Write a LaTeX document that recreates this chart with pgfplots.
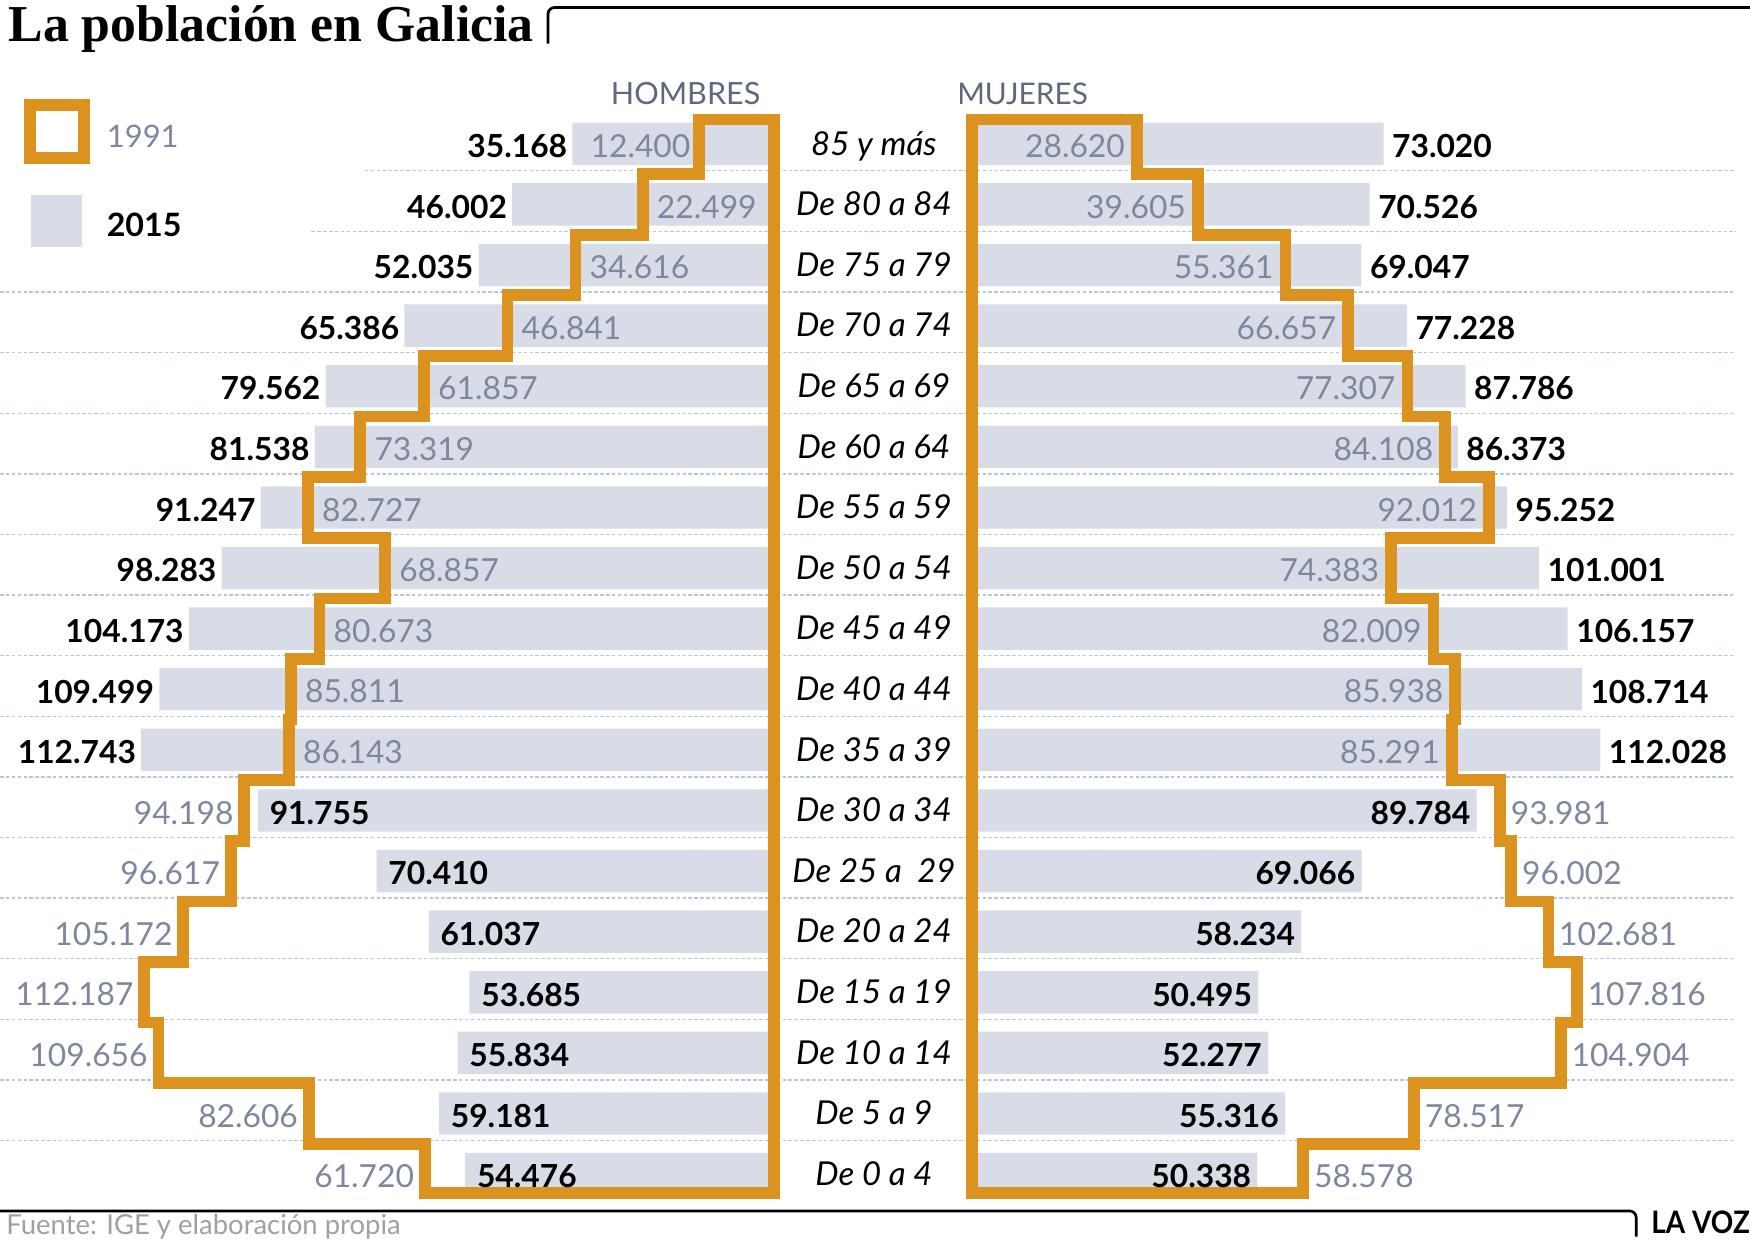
\documentclass[border=0pt]{standalone}
\usepackage{pgfplots}
\pgfplotsset{compat=1.18}
\usepackage{pgfplotstable}
\usepackage{fontspec}
\setmainfont{Lato}
\newfontfamily\titulo{Liberation Serif}

\definecolor{naranja}{HTML}{DC921E}
\definecolor{barra}{HTML}{D8DCE6}
\definecolor{grisnum}{HTML}{7D879D}
\definecolor{pizarra}{HTML}{5E687E}
\definecolor{rejilla}{HTML}{B2CAD9}
\definecolor{fuente}{HTML}{A0A0A0}

% fila 0 = De 0 a 4 ... fila 17 = 85 y mas
\pgfplotstableread{
y  h2015  h1991  m2015  m1991
0   54476  61720  50338  58578
1   59181  82606  55316  78517
2   55834 109656  52277 104904
3   53685 112187  50495 107816
4   61037 105172  58234 102681
5   70410  96617  69066  96002
6   91755  94198  89784  93981
7  112743  86143 112028  85291
8  109499  85811 108714  85938
9  104173  80673 106157  82009
10  98283  68857 101001  74383
11  91247  82727  95252  92012
12  81538  73319  86373  84108
13  79562  61857  87786  77307
14  65386  46841  77228  66657
15  52035  34616  69047  55361
16  46002  22499  70526  39605
17  35168  12400  73020  28620
}\datos

\newcommand{\tam}{\fontsize{8.1}{9}\selectfont}

\pgfplotsset{
  piramide/.style={
    scale only axis, width=7.1214cm, height=9.774cm,
    xmin=-3000, xmax=140000, ymin=-0.5, ymax=17.5,
    hide axis, clip=false,
    /pgf/number format/fixed, /pgf/number format/precision=0,
    /pgf/number format/1000 sep={.},
    /pgf/number format/assume math mode=true,
  },
  negrita/.style 2 args={draw=none, mark=none, nodes near coords, point meta=x,
    every node near coord/.append style={font=\tam\bfseries, text=black,
      inner sep=0pt, anchor=#1, xshift=#2, yshift=-0.02cm}},
  gris/.style 2 args={draw=none, mark=none, nodes near coords, point meta=x,
    every node near coord/.append style={font=\tam, text=grisnum,
      inner sep=0pt, anchor=#1, xshift=#2, yshift=-0.02cm}},
  contorno/.style={draw=naranja, line width=0.105cm, line join=miter,
    line cap=rect, mark=none},
}

\begin{document}
\begin{tikzpicture}
\useasboundingbox (0,0) rectangle (15.68,11.2);

% lineas de separacion
\foreach \i in {0,...,16}{
  \pgfmathsetmacro{\yy}{11.2-(10.52-0.543*(\i+0.5))+0.03}
  \pgfmathsetmacro{\xx}{\i==16 ? 3.27 : (\i==15 ? 2.79 : 0)}
  \draw[rejilla, line width=0.35pt, dash pattern=on 0.9pt off 0.6pt]
    (\xx,\yy) -- (15.55,\yy);
}

% HOMBRES
\begin{axis}[piramide, at={(7.0294cm,0.4085cm)}, anchor=south east, x dir=reverse]
\addplot[xbar, bar width=0.7, fill=barra, draw=none] table[x=h2015, y=y] {\datos};
\addplot[contorno] coordinates {
  (-1050,17.40) (12400,17.40) (12400,16.5) (22499,16.5) (22499,15.5)
  (34616,15.5) (34616,14.5) (46841,14.5) (46841,13.5) (61857,13.5)
  (61857,12.5) (73319,12.5) (73319,11.5) (82727,11.5) (82727,10.5)
  (68857,10.5) (68857,9.5) (80673,9.5) (80673,8.5) (85811,8.5)
  (85811,7.5) (86143,7.5) (86143,6.5) (94198,6.5) (94198,5.5)
  (96617,5.5) (96617,4.5) (105172,4.5) (105172,3.5) (112187,3.5)
  (112187,2.5) (109656,2.5) (109656,1.5) (82606,1.5) (82606,0.5)
  (61720,0.5) (61720,-0.31) (-1050,-0.31) (-1050,17.40)
};
\addplot[negrita={east}{-0.04cm}, restrict y to domain=6.5:18] table[x=h2015, y=y] {\datos};
\addplot[negrita={west}{0.10cm}, restrict y to domain=-1:6.5] table[x=h2015, y=y] {\datos};
\addplot[gris={west}{0.12cm}, restrict y to domain=6.5:16.5] table[x=h1991, y=y] {\datos};
\addplot[gris={east}{-0.07cm}, restrict y to domain=16.5:18] table[x=h1991, y=y] {\datos};
\addplot[gris={east}{-0.09cm}, restrict y to domain=-1:6.5] table[x=h1991, y=y] {\datos};
\end{axis}

% MUJERES
\begin{axis}[piramide, at={(8.6106cm,0.4085cm)}, anchor=south west]
\addplot[xbar, bar width=0.7, fill=barra, draw=none] table[x=m2015, y=y] {\datos};
\addplot[contorno] coordinates {
  (-1050,17.40) (28620,17.40) (28620,16.5) (39605,16.5) (39605,15.5)
  (55361,15.5) (55361,14.5) (66657,14.5) (66657,13.5) (77307,13.5)
  (77307,12.5) (84108,12.5) (84108,11.5) (92012,11.5) (92012,10.5)
  (74383,10.5) (74383,9.5) (82009,9.5) (82009,8.5) (85938,8.5)
  (85938,7.5) (85291,7.5) (85291,6.5) (93981,6.5) (93981,5.5)
  (96002,5.5) (96002,4.5) (102681,4.5) (102681,3.5) (107816,3.5)
  (107816,2.5) (104904,2.5) (104904,1.5) (78517,1.5) (78517,0.5)
  (58578,0.5) (58578,-0.31) (-1050,-0.31) (-1050,17.40)
};
\addplot[negrita={west}{0.07cm}, restrict y to domain=6.5:18] table[x=m2015, y=y] {\datos};
\addplot[negrita={east}{-0.05cm}, restrict y to domain=-1:6.5] table[x=m2015, y=y] {\datos};
\addplot[gris={east}{-0.10cm}, restrict y to domain=6.5:18] table[x=m1991, y=y] {\datos};
\addplot[gris={west}{0.09cm}, restrict y to domain=-1:6.5] table[x=m1991, y=y] {\datos};
\end{axis}

% grupos de edad
\foreach \t [count=\i from 0] in {De 0 a 4, De 5 a 9, De 10 a 14, De 15 a 19,
    De 20 a 24, De 25 a\ \ 29, De 30 a 34, De 35 a 39, De 40 a 44, De 45 a 49,
    De 50 a 54, De 55 a 59, De 60 a 64, De 65 a 69, De 70 a 74, De 75 a 79,
    De 80 a 84, 85 y más}{
  \pgfmathsetmacro{\yy}{11.2-(10.52-0.543*\i)-0.10}
  \node[anchor=base, inner sep=0pt, font=\fontsize{8.4}{9}\selectfont\itshape]
    at (7.83,\yy) {\t};
}

% cabeceras
\node[anchor=base east, inner sep=0pt, font=\fontsize{7.8}{9}\selectfont, text=pizarra]
  at (6.82,10.26) {HOMBRES};
\node[anchor=base west, inner sep=0pt, font=\fontsize{7.6}{9}\selectfont, text=pizarra]
  at (8.57,10.26) {MUJERES};

% leyenda
\draw[naranja, line width=0.11cm] (0.27,9.785) rectangle (0.75,10.26);
\node[anchor=base west, inner sep=0pt, font=\fontsize{7.9}{9}\selectfont, text=grisnum]
  at (0.95,9.88) {1991};
\fill[barra] (0.278,8.99) rectangle (0.737,9.453);
\node[anchor=base west, inner sep=0pt, font=\fontsize{8.2}{9}\selectfont\bfseries]
  at (0.95,9.08) {2015};

% titulo
\node[anchor=base west, inner sep=0pt, font=\titulo\fontsize{13.2}{15}\selectfont\bfseries]
  at (0.07,10.825) {La población en Galicia};
\draw[line width=0.7pt, rounded corners=0.06cm]
  (4.91,10.81) -- (4.91,11.133) -- (15.7,11.133);

% pie
\draw[line width=0.7pt, rounded corners=0.06cm]
  (-0.1,0.35) -- (14.66,0.35) -- (14.66,0.12);
\node[anchor=base west, inner sep=0pt, font=\fontsize{7}{8}\selectfont, text=fuente]
  at (0.05,0.14) {Fuente: IGE y elaboración propia};
\node[anchor=base west, inner sep=0pt, font=\fontsize{7.9}{8}\selectfont\bfseries]
  at (14.79,0.15) {\scalebox{0.9}[1]{LA VOZ}};
\end{tikzpicture}
\end{document}
